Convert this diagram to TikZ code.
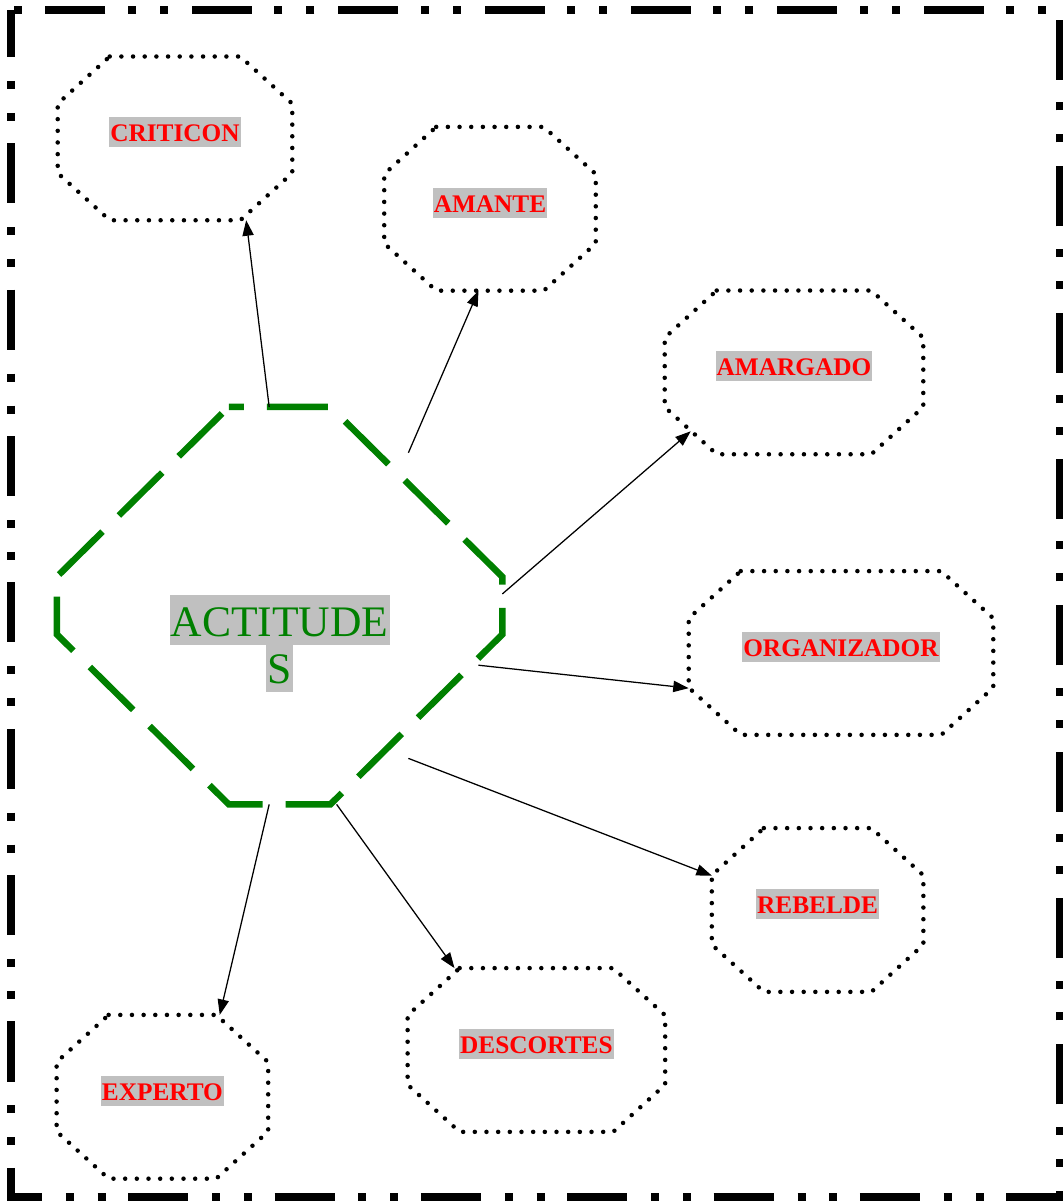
\documentclass[tikz,border=0pt]{standalone}
\usepackage{fontspec}
\setmainfont{Liberation Serif}
\usepackage{xcolor}
\usepackage{tikz}
\usetikzlibrary{arrows.meta}
\definecolor{labelred}{RGB}{255, 0, 0}
\definecolor{hubgreen}{RGB}{0, 128, 0}
\definecolor{hlgray}{RGB}{192, 192, 192}
\setlength{\fboxsep}{0.7pt}
\setlength{\lineskiplimit}{-50pt}
\newcommand{\hlword}[1]{\colorbox{hlgray}{\rule[-.17em]{0pt}{1.1em}#1}}
% cut-corner outline round a named node: style, node, cut x, cut y
\newcommand{\octpath}[4]{%
  \draw[#1] ([xshift=#3]#2.north west) -- ([xshift=-#3]#2.north east)
    -- ([yshift=-#4]#2.north east) -- ([yshift=#4]#2.south east)
    -- ([xshift=-#3]#2.south east) -- ([xshift=#3]#2.south west)
    -- ([yshift=#4]#2.south west) -- ([yshift=-#4]#2.north west) -- cycle;}
\tikzset{
    frame/.style  ={draw=black, line width=5.7pt,
                    dash pattern=on 42.7pt off 17pt on 5.7pt off 17pt on 5.7pt off 16pt,
                    dash phase=9.2pt},
    octo/.style   ={rectangle, minimum height=4.08cm, inner sep=0pt, text=labelred,
                    font=\fontsize{18}{22}\selectfont\bfseries, text depth=12.5pt},
    octline/.style={draw=black, line width=3.2pt, line cap=round,
                    dash pattern=on 0pt off 8.3pt},
    hub/.style    ={rectangle, minimum width=11.125cm, minimum height=9.925cm, inner sep=0pt},
    hubline/.style={draw=hubgreen, line width=4.6pt,
                    dash pattern=on 43.4pt off 16.4pt, dash phase=32.7pt},
    hubtxt/.style ={text=hubgreen, font=\fontsize{31}{33}\selectfont,
                    align=center, inner sep=0pt},
    ar/.style     ={-{Triangle[length=11pt, width=8pt]}, line width=0.9pt, draw=black}
}

\begin{document}
\begin{tikzpicture}
  \useasboundingbox (0,0) rectangle (26.55,30.05);
  % outer frame
  \draw[frame] (0.275,29.8) -- (0.275,0.125) -- (26.5,0.125) -- (26.5,29.8) -- cycle;

  % centre
  \node[hub] (act) at (6.99,14.91) {};
  \octpath{hubline}{act}{4.3cm}{4.25cm}
  \node[hubtxt, yshift=-0.95cm] (actlbl) at (act.center) {\hlword{ACTITUDE}\\\hlword{S}};

  % attitudes
  \node[octo, minimum width=5.85cm]  (crit) at (4.375,26.59) {\hlword{CRITICON}};
  \node[octo, minimum width=5.275cm] (ama)  at (12.25,24.83) {\hlword{AMANTE}};
  \node[octo, minimum width=6.45cm]  (amg)  at (19.85,20.74) {\hlword{AMARGADO}};
  \node[octo, minimum width=7.6cm]   (org)  at (21.025,13.725) {\hlword{ORGANIZADOR}};
  \node[octo, minimum width=5.275cm] (reb)  at (20.44,7.30) {\hlword{REBELDE}};
  \node[octo, minimum width=6.425cm] (des)  at (13.41,3.80) {\hlword{DESCORTES}};
  \node[octo, minimum width=5.275cm] (exp)  at (4.06,2.63) {\hlword{EXPERTO}};
  \foreach \n in {crit,ama,amg,org,reb,des,exp}{
    \octpath{octline}{\n}{1.3cm}{1.18cm}
  }

  % links
  \draw[ar] (act.93) -- (crit.-49);
  \draw[ar] ([xshift=-2.35cm, yshift=-1.15cm]act.north east) -- (ama.-98);
  \draw[ar] (act.3) -- ([xshift=0.65cm, yshift=0.575cm]amg.south west);
  \draw[ar] ([xshift=-0.6cm, yshift=-1.49cm]act.east) -- (org.193);
  \draw[ar] ([xshift=-2.35cm, yshift=1.15cm]act.south east) -- (reb.162);
  \draw[ar] (act.-74) -- (des.135);
  \draw[ar] (act.-93) -- (exp.55);
\end{tikzpicture}
\end{document}
